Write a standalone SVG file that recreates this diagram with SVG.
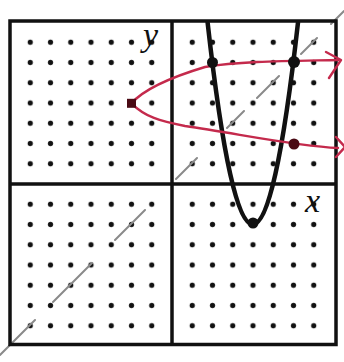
<svg xmlns="http://www.w3.org/2000/svg" width="344" height="362" viewBox="0 0 344 362">
<style>
.frame{fill:none;stroke:#111;stroke-width:3.5}
.axis{stroke:#111;stroke-width:3.5}
.diag{fill:none;stroke:#8a8a8a;stroke-width:2;stroke-linecap:round}
.blk{fill:none;stroke:#111;stroke-width:4.5;stroke-linecap:round}
.red{fill:none;stroke:#c42a4c;stroke-width:2.4;stroke-linecap:round;stroke-linejoin:round}
.lbl{font-family:"Liberation Serif","DejaVu Serif",serif;font-style:italic;font-size:34px;fill:#111}
.pt{fill:#111}
.rpt{fill:#4a0a14}
</style>
<defs>
<pattern id="dots" patternUnits="userSpaceOnUse" x="161.875" y="173.875" width="20.25" height="20.25">
<circle cx="10.125" cy="10.125" r="2.6" fill="#111"/>
</pattern>
</defs>
<rect width="344" height="362" fill="#fff"/>
<g id="grid">
<rect x="20" y="32" width="142" height="142" fill="url(#dots)"/>
<rect x="182" y="32" width="143" height="142" fill="url(#dots)"/>
<rect x="20" y="194" width="142" height="142" fill="url(#dots)"/>
<rect x="182" y="194" width="143" height="142" fill="url(#dots)"/>
</g>
<g id="connectors">
<path class="diag" d="M0,355 L35,320 M53,302 L92,263 M115,240 L145,210 M176,179 L197,158 M227,128 L244,111 M257,98 L279,76 M301,54 L317,38 M331,24 L344,11"/>
</g>
<g id="axes">
<line class="axis" x1="172" y1="21" x2="172" y2="345"/>
<line class="axis" x1="10" y1="184" x2="336" y2="184"/>
</g>
<g id="frame">
<rect class="frame" x="10" y="21" width="326" height="323.5"/>
</g>
<g id="parabola">
<path class="blk" d="M207.6,22.4 Q252.8,426.4 298,22.4"/>
</g>
<g id="inverse">
<path class="red" d="M338,60 C290,61 240,61 205,67 C175,76 145,88 131.5,103.3 C145,117 160,121 185,126 C240,134 295,146 338,148"/>
<path class="red" d="M326,52 L341,60 L329,78 M336,137 L345,147 L336,157"/>
</g>
<g id="points">
<circle class="pt" cx="212.5" cy="62.5" r="5.5"/>
<circle class="pt" cx="294" cy="62" r="6"/>
<circle class="rpt" cx="294" cy="144" r="5.5"/>
<rect class="rpt" x="127" y="98.8" width="9" height="9"/>
<circle class="pt" cx="253" cy="223" r="5.5"/>
</g>
<g id="labels">
<text class="lbl" x="143" y="46">y</text>
<text class="lbl" x="305" y="212">x</text>
</g>
</svg>
